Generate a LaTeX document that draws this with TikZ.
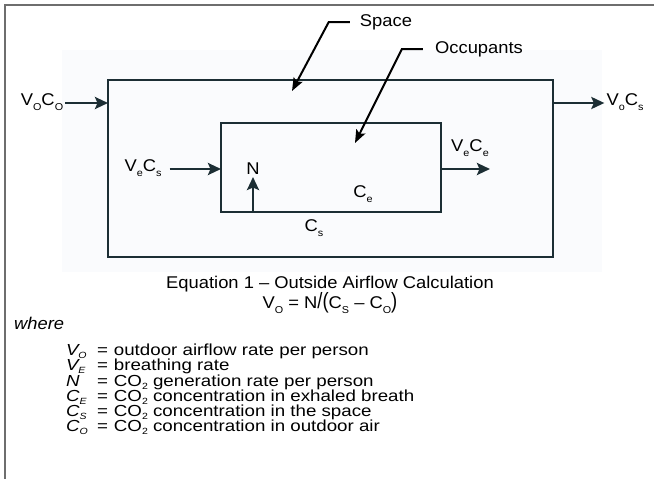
\documentclass[tikz,border=0pt]{standalone}
\usepackage{graphicx}
\usepackage{fontspec}
\setmainfont[FakeStretch=1.08]{Liberation Sans}
\newfontfamily\listfont[FakeStretch=1.17]{Liberation Sans}
\usetikzlibrary{arrows.meta}
\definecolor{boxline}{RGB}{28,46,52}
\definecolor{framegray}{RGB}{110,110,110}
\definecolor{panel}{RGB}{250,251,253}
\newcommand{\lowsub}[1]{\raisebox{-5pt}{\fontsize{10}{10}\selectfont #1}}
\newcommand{\listsub}[1]{\raisebox{-3pt}{\fontsize{9}{9}\selectfont #1}}
\tikzset{
	box/.style={draw=boxline, line width=2.6pt, inner sep=0pt, outer sep=0pt},
	flow/.style={draw=boxline, line width=2.6pt, -{Stealth[length=13pt,width=12pt,inset=2.5pt]}},
	callout/.style={draw=black, line width=2pt, -{Stealth[length=13pt,width=10pt,inset=2.5pt]}},
	lbl/.style={font=\fontsize{17}{19}\selectfont, inner sep=2pt},
	listline/.style={font=\listfont\fontsize{16}{18}\selectfont, inner sep=0pt, outer sep=0pt, anchor=mid west},
}
\begin{document}
\begin{tikzpicture}[x=1pt,y=-1pt]
		\useasboundingbox (0,0) rectangle (654,479);
		\fill[panel] (62,50) rectangle (602,272);
		\draw[framegray, line width=1.5pt] (5,479) -- (5,5) -- (654,5);

		\node[box, minimum width=445pt, minimum height=177pt] (space) at (330.5,168.5) {};
		\node[box, minimum width=220pt, minimum height=89pt] (occ) at (331,167.5) {};

		\node[lbl, anchor=mid] (vo) at (42,103) {V\lowsub{O}C\lowsub{O}};
		\node[lbl, anchor=mid] (vos) at (625,103) {V\lowsub{o}C\lowsub{s}};
		\node[lbl, anchor=mid] (vecs) at (143,169) {V\lowsub{e}C\lowsub{s}};
		\node[lbl, anchor=mid] (vece) at (470,149) {V\lowsub{e}C\lowsub{e}};
		\node[lbl, anchor=south] (n) at (253,177) {N};
		\node[lbl] (ce) at (363,194) {C\lowsub{e}};
		\node[lbl] (cs) at (314,228) {C\lowsub{s}};
		\node[lbl] (spacelbl) at (386,22) {Space};
		\node[lbl] (occlbl) at (479,49) {Occupants};
		\coordinate (spacetip) at (292,91);
		\coordinate (occtip) at (355,143);
		\coordinate (exhale) at (490,169);

		\draw[flow] (vo.mid east) -- (vo.mid east -| space.west);
		\draw[flow] (vo.mid east -| space.east) -- (vos.mid west);
		\draw[flow] ([xshift=6pt]vecs.mid east) -- (vecs.mid east -| occ.west);
		\draw[flow] (occ.east |- exhale) -- (exhale);
		\draw[flow] (occ.south -| n) -- (n.south);
		\draw[callout] ([xshift=-8pt]spacelbl.west) -- ++(-21,0) -- (spacetip);
		\draw[callout] ([xshift=-10pt]occlbl.west) -- ++(-21,0) -- (occtip);

		\node[lbl] (caption) at (330,284) {Equation 1 – Outside Airflow Calculation};
		\node[lbl] (equation) at (330,303) {V\lowsub{O} = N\scalebox{1}[1.3]{/}\scalebox{1}[1.3]{(}C\lowsub{S} – C\lowsub{O}\scalebox{1}[1.3]{)}};
		\node[lbl, anchor=mid west, font=\fontsize{17}{19}\selectfont\itshape] (where) at (12,327) {where};

		\foreach \sym/\txt [count=\i from 0] in {
			{V\listsub{O}}/{outdoor airflow rate per person},
			{V\listsub{E}}/{breathing rate},
			{N}/{CO\listsub{2} generation rate per person},
			{C\listsub{E}}/{CO\listsub{2} concentration in exhaled breath},
			{C\listsub{S}}/{CO\listsub{2} concentration in the space},
			{C\listsub{O}}/{CO\listsub{2} concentration in outdoor air}}
		{
			\node[listline, font=\listfont\fontsize{16}{18}\selectfont\itshape] (sym\i) at (66,353+15.2*\i) {\sym};
			\node[listline] (def\i) at (97,353+15.2*\i) {=\hspace{6pt}\txt};
		}
	\end{tikzpicture}
\end{document}
